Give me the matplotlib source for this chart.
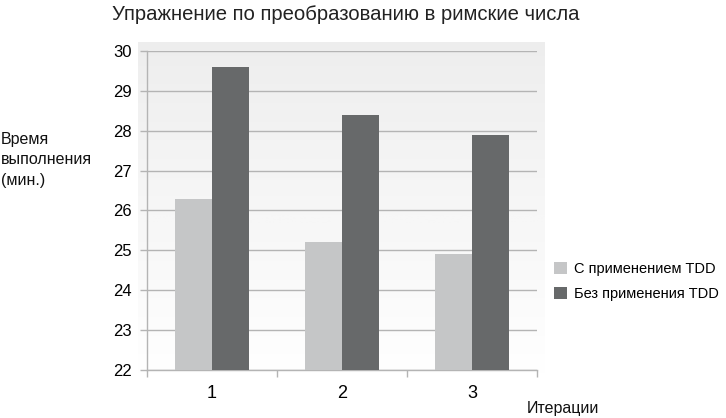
import matplotlib
matplotlib.use("Agg")
import matplotlib.pyplot as plt
import numpy as np

plt.rcParams["font.family"] = ["Liberation Sans", "DejaVu Sans"]

# Data
ITERATIONS = ["1", "2", "3"]
WITH_TDD = [26.3, 25.2, 24.9]
WITHOUT_TDD = [29.6, 28.4, 27.9]
SERIES_LABELS = ["С применением TDD", "Без применения TDD"]
Y_TICKS = [22, 23, 24, 25, 26, 27, 28, 29, 30]

LIGHT = "#c5c6c7"
DARK = "#67696a"
GRID = "#b4b4b4"

W, H = 726, 418
fig = plt.figure(figsize=(W / 100, H / 100), dpi=100)
fig.patch.set_facecolor("white")

# Gradient panel behind the plot area (Excel-like)
bg = fig.add_axes([138 / W, 1 - 382 / H, (545 - 138) / W, (382 - 42) / H], zorder=0)
grad = np.linspace(0, 1, 256).reshape(-1, 1)
bg.imshow(grad, aspect="auto", cmap="Greys_r", vmin=-6.0, vmax=1.0,
          extent=[0, 1, 0, 1], origin="upper")
bg.axis("off")

ax = fig.add_axes([147 / W, 1 - 370 / H, (537 - 147) / W, (370 - 51) / H], zorder=1)
ax.patch.set_alpha(0)

x = np.arange(len(ITERATIONS))
bw = 0.285
ax.bar(x - bw / 2, np.array(WITH_TDD) - 22, bw, bottom=22, color=LIGHT,
       label=SERIES_LABELS[0], zorder=3)
ax.bar(x + bw / 2, np.array(WITHOUT_TDD) - 22, bw, bottom=22, color=DARK,
       label=SERIES_LABELS[1], zorder=3)

ax.set_xlim(-0.5, len(ITERATIONS) - 0.5)
ax.set_ylim(22, 30)
ax.set_yticks(Y_TICKS)
ax.set_yticklabels([str(t) for t in Y_TICKS], fontsize=12)
ax.yaxis.grid(True, color=GRID, linewidth=1, zorder=1)
ax.set_axisbelow(True)

# category labels centred, ticks on category boundaries
ax.set_xticks(x)
ax.set_xticklabels(ITERATIONS, fontsize=13)
ax.tick_params(axis="x", length=0, pad=11)
ax.set_xticks(np.arange(-0.5, len(ITERATIONS)), minor=True)
ax.tick_params(axis="x", which="minor", length=5, color=GRID, width=1)
ax.tick_params(axis="y", length=5, color=GRID, width=1, pad=6)

for side in ["top", "right"]:
    ax.spines[side].set_visible(False)
for side in ["left", "bottom"]:
    ax.spines[side].set_color(GRID)
    ax.spines[side].set_linewidth(1)

fig.text(112 / W, 1 - 15 / H, "Упражнение по преобразованию в римские числа",
         fontsize=14.6, ha="left", va="center", color="#222222")
fig.text(1 / W, 1 - 160 / H, "Время\nвыполнения\n(мин.)", fontsize=11.5,
         ha="left", va="center", linespacing=1.45, color="#111111")
fig.text(527 / W, 1 - 408 / H, "Итерации", fontsize=11.5, ha="left",
         va="center", color="#111111")

fig.legend(loc="upper left", bbox_to_anchor=(541 / W, 1 - 249 / H),
           frameon=False, fontsize=10.5, handlelength=0.85, handleheight=0.85,
           handletextpad=0.5, labelspacing=0.75)

fig.savefig("out.png", dpi=100)
